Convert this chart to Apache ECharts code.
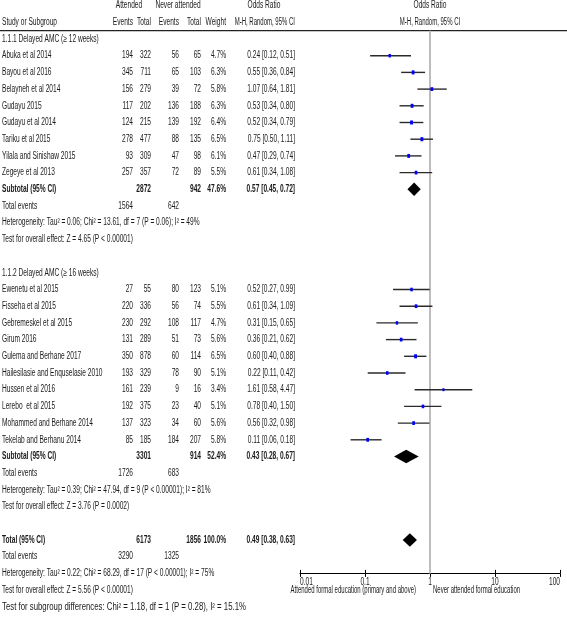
<!DOCTYPE html>
<html><head><meta charset="utf-8">
<script src="https://cdn.jsdelivr.net/npm/echarts@6/dist/echarts.min.js"></script>
<style>html,body{margin:0;padding:0;background:#fff}#c{width:567px;height:618px}</style>
</head><body><div id="c"></div>
<script>
// ---------------- DATA ----------------
const g1Studies = ['Abuka et al 2014','Bayou et al 2016','Belayneh et al 2014','Gudayu 2015','Gudayu et al 2014','Tariku et al 2015','Yilala and Sinishaw 2015','Zegeye et al 2013'];
const g1AttEvents = [194,345,156,117,124,278,93,257];
const g1AttTotal  = [322,711,279,202,215,477,309,357];
const g1NevEvents = [56,65,39,136,139,88,47,72];
const g1NevTotal  = [65,103,72,188,192,135,98,89];
const g1Weight    = [4.7,6.3,5.8,6.3,6.4,6.5,6.1,5.5];
const g1OR        = [0.24,0.55,1.07,0.53,0.52,0.75,0.47,0.61];
const g1Lo        = [0.12,0.36,0.64,0.34,0.34,0.50,0.29,0.34];
const g1Hi        = [0.51,0.84,1.81,0.80,0.79,1.11,0.74,1.08];

const g2Studies = ['Ewenetu et al 2015','Fisseha et al 2015','Gebremeskel et al 2015','Girum 2016','Gulema and Berhane 2017','Hailesilasie and Enquselasie 2010','Hussen et al 2016','Lerebo  et al 2015','Mohammed and Berhane 2014','Tekelab and Berhanu 2014'];
const g2AttEvents = [27,220,230,131,350,193,161,192,137,85];
const g2AttTotal  = [55,336,292,289,878,329,239,375,323,185];
const g2NevEvents = [80,56,108,51,60,78,9,23,34,184];
const g2NevTotal  = [123,74,117,73,114,90,16,40,60,207];
const g2Weight    = [5.1,5.5,4.7,5.6,6.5,5.1,3.4,5.1,5.6,5.8];
const g2OR        = [0.52,0.61,0.31,0.36,0.60,0.22,1.61,0.78,0.56,0.11];
const g2Lo        = [0.27,0.34,0.15,0.21,0.40,0.11,0.58,0.40,0.32,0.06];
const g2Hi        = [0.99,1.09,0.65,0.62,0.88,0.42,4.47,1.50,0.98,0.18];

// pooled estimates: subgroup 1, subgroup 2, overall
const pooledLabels    = ['Subtotal (95% CI)','Subtotal (95% CI)','Total (95% CI)'];
const pooledAttTotal  = [2872,3301,6173];
const pooledNevTotal  = [942,914,1856];
const pooledWeight    = [47.6,52.4,100.0];
const pooledOR        = [0.57,0.43,0.49];
const pooledLo        = [0.45,0.28,0.38];
const pooledHi        = [0.72,0.67,0.63];
const pooledAttEvents = [1564,1726,3290];
const pooledNevEvents = [642,683,1325];

const subgroupTitles = ['1.1.1 Delayed AMC (\u2265 12 weeks)','1.1.2 Delayed AMC (\u2265 16 weeks)'];
const heterogeneity = [
  'Heterogeneity: Tau\u00b2 = 0.06; Chi\u00b2 = 13.61, df = 7 (P = 0.06); I\u00b2 = 49%',
  'Heterogeneity: Tau\u00b2 = 0.39; Chi\u00b2 = 47.94, df = 9 (P < 0.00001); I\u00b2 = 81%',
  'Heterogeneity: Tau\u00b2 = 0.22; Chi\u00b2 = 68.29, df = 17 (P < 0.00001); I\u00b2 = 75%'];
const overallEffect = [
  'Test for overall effect: Z = 4.65 (P < 0.00001)',
  'Test for overall effect: Z = 3.76 (P = 0.0002)',
  'Test for overall effect: Z = 5.56 (P < 0.00001)'];
const subgroupDiff = 'Test for subgroup differences: Chi\u00b2 = 1.18, df = 1 (P = 0.28), I\u00b2 = 15.1%';
const axisTicks = [0.01,0.1,1,10,100];
const axisTickLabels = ['0.01','0.1','1','10','100'];
const favoursLeft = 'Attended formal education (primary and above)';
const favoursRight = 'Never attended formal education';

// ---------------- LAYOUT ----------------
const FONT = "'Liberation Sans', Arial, sans-serif";
const FS = 10, SX = 0.66, TXT = '#1a1a1a';
const COL = {name:2, attEv:133, attTot:151, nevEv:179, nevTot:201, weight:226, or:295};
const cells = [];
function cell(x,row,text,align,bold,sx){cells.push({x,row,text,align,bold:!!bold,sx:sx||SX});}
const fmtCI = (o,l,h)=>o.toFixed(2)+' ['+l.toFixed(2)+', '+h.toFixed(2)+']';

cell(129,-1,'Attended','center'); cell(178,-1,'Never attended','center');
cell(264,-1,'Odds Ratio','center'); cell(430,-1,'Odds Ratio','center');
cell(COL.name,0,'Study or Subgroup','left'); cell(COL.attEv,0,'Events','right');
cell(COL.attTot,0,'Total','right'); cell(COL.nevEv,0,'Events','right');
cell(COL.nevTot,0,'Total','right'); cell(COL.weight,0,'Weight','right');
cell(COL.or,0,'M-H, Random, 95% CI','right',0,0.6); cell(430,0,'M-H, Random, 95% CI','center',0,0.6);

const groups = [
  {start:1, st:g1Studies, ae:g1AttEvents, at:g1AttTotal, ne:g1NevEvents, nt:g1NevTotal, w:g1Weight, o:g1OR, l:g1Lo, h:g1Hi},
  {start:15, st:g2Studies, ae:g2AttEvents, at:g2AttTotal, ne:g2NevEvents, nt:g2NevTotal, w:g2Weight, o:g2OR, l:g2Lo, h:g2Hi}];
const studyPts = [], diamonds = [];
groups.forEach((g,gi)=>{
  cell(COL.name,g.start,subgroupTitles[gi],'left');
  g.st.forEach((s,i)=>{
    const r = g.start+1+i;
    cell(COL.name,r,s,'left'); cell(COL.attEv,r,String(g.ae[i]),'right');
    cell(COL.attTot,r,String(g.at[i]),'right'); cell(COL.nevEv,r,String(g.ne[i]),'right');
    cell(COL.nevTot,r,String(g.nt[i]),'right'); cell(COL.weight,r,g.w[i].toFixed(1)+'%','right');
    cell(COL.or,r,fmtCI(g.o[i],g.l[i],g.h[i]),'right');
    studyPts.push([g.o[i],g.l[i],g.h[i],r,g.w[i]]);
  });
  const sr = g.start+1+g.st.length;
  diamonds.push([pooledOR[gi],pooledLo[gi],pooledHi[gi],sr]);
  cell(COL.name,sr,pooledLabels[gi],'left',1); cell(COL.attTot,sr,String(pooledAttTotal[gi]),'right',1);
  cell(COL.nevTot,sr,String(pooledNevTotal[gi]),'right',1); cell(COL.weight,sr,pooledWeight[gi].toFixed(1)+'%','right',1);
  cell(COL.or,sr,fmtCI(pooledOR[gi],pooledLo[gi],pooledHi[gi]),'right',1);
  cell(COL.name,sr+1,'Total events','left'); cell(COL.attEv,sr+1,String(pooledAttEvents[gi]),'right');
  cell(COL.nevEv,sr+1,String(pooledNevEvents[gi]),'right');
  cell(COL.name,sr+2,heterogeneity[gi],'left'); cell(COL.name,sr+3,overallEffect[gi],'left');
});
const tr = 31;
diamonds.push([pooledOR[2],pooledLo[2],pooledHi[2],tr]);
cell(COL.name,tr,pooledLabels[2],'left',1); cell(COL.attTot,tr,String(pooledAttTotal[2]),'right',1);
cell(COL.nevTot,tr,String(pooledNevTotal[2]),'right',1); cell(COL.weight,tr,pooledWeight[2].toFixed(1)+'%','right',1);
cell(COL.or,tr,fmtCI(pooledOR[2],pooledLo[2],pooledHi[2]),'right',1);
cell(COL.name,tr+1,'Total events','left'); cell(COL.attEv,tr+1,String(pooledAttEvents[2]),'right');
cell(COL.nevEv,tr+1,String(pooledNevEvents[2]),'right');
cell(COL.name,tr+2,heterogeneity[2],'left'); cell(COL.name,tr+3,overallEffect[2],'left');
cell(COL.name,tr+4,subgroupDiff,'left',0,0.78);

function textEl(x,y,text,align,bold,sx){
  return {type:'text', x:x, y:y, scaleX:sx||SX, silent:true,
    style:{text:text, x:0, y:0, align:align, verticalAlign:'middle', textAlign:align, textVerticalAlign:'middle',
      fontSize:FS, fontFamily:FONT, fontWeight:bold?'bold':'normal', fill:TXT}};
}

const chart = echarts.init(document.getElementById('c'), null, {renderer:'canvas'});
chart.setOption({
  animation:false,
  backgroundColor:'#fff',
  grid:[
    {left:0, right:0, top:5.6, bottom:11.2},
    {left:300, right:7, top:5.6, bottom:44.6}
  ],
  xAxis:[
    {type:'value', gridIndex:0, min:0, max:567, show:false},
    {type:'log', gridIndex:1, min:0.01, max:100, logBase:10, position:'bottom',
      axisLine:{show:true, onZero:false, lineStyle:{color:'#000', width:1}},
      axisTick:{show:true, inside:false, length:3.5, lineStyle:{color:'#000'}},
      axisLabel:{show:false}, splitLine:{show:false}, minorTick:{show:false}},
    {type:'log', gridIndex:1, min:0.01, max:100, logBase:10, position:'bottom',
      axisLine:{show:false, onZero:false}, axisTick:{show:true, inside:true, length:3.5, lineStyle:{color:'#000'}},
      axisLabel:{show:false}, splitLine:{show:false}}
  ],
  yAxis:[
    {type:'value', gridIndex:0, min:-1, max:35, inverse:true, show:false},
    {type:'value', gridIndex:1, min:-1, max:33, inverse:true, show:false}
  ],
  series:[
    { // header rule
      type:'line', xAxisIndex:0, yAxisIndex:0, data:[[0,0.5],[567,0.5]], symbol:'none',
      lineStyle:{color:'#222', width:1.2}, silent:true, z:1},
    { // line of no effect
      type:'line', xAxisIndex:1, yAxisIndex:1, data:[[1,0.5],[1,33]], symbol:'none',
      lineStyle:{color:'#bdbdbd', width:2}, silent:true, z:1},
    { // study estimates
      type:'custom', xAxisIndex:1, yAxisIndex:1, data:studyPts, encode:{x:[0,1,2], y:3}, z:3, silent:true,
      renderItem:function(params, api){
        const r = api.value(3);
        const p = api.coord([api.value(0), r]), a = api.coord([api.value(1), r]), b = api.coord([api.value(2), r]);
        const hgt = 1.6*Math.sqrt(api.value(4)), wid = hgt*0.7;
        return {type:'group', children:[
          {type:'line', shape:{x1:a[0], y1:a[1], x2:b[0], y2:b[1]}, style:{stroke:'#2a2a2a', lineWidth:1.4}},
          {type:'rect', shape:{x:p[0]-wid/2, y:p[1]-hgt/2, width:wid, height:hgt}, style:{fill:'#0000ff'}}
        ]};
      }},
    { // pooled diamonds
      type:'custom', xAxisIndex:1, yAxisIndex:1, data:diamonds, encode:{x:[0,1,2], y:3}, z:3, silent:true,
      renderItem:function(params, api){
        const r = api.value(3);
        const p = api.coord([api.value(0), r]), a = api.coord([api.value(1), r]), b = api.coord([api.value(2), r]);
        const hh = 6.7;
        return {type:'polygon', shape:{points:[[a[0],p[1]],[p[0],p[1]-hh],[b[0],p[1]],[p[0],p[1]+hh]]}, style:{fill:'#000'}};
      }},
    { // axis tick labels
      type:'custom', xAxisIndex:1, yAxisIndex:1, data:axisTicks.map(v=>[v,33]), encode:{x:0,y:1}, z:4, silent:true,
      renderItem:function(params, api){
        const i = params.dataIndex, p = api.coord([api.value(0), api.value(1)]);
        const al = i===0 ? 'left' : (i===axisTicks.length-1 ? 'right' : 'center');
        return textEl(p[0], p[1]+9, axisTickLabels[i], al, false);
      }},
    { // favours labels
      type:'custom', xAxisIndex:1, yAxisIndex:1, data:[[1,34],[1,34]], encode:{x:0,y:1}, z:4, silent:true,
      renderItem:function(params, api){
        const p = api.coord([api.value(0), api.value(1)]);
        return params.dataIndex===0 ? textEl(p[0]-14, p[1], favoursLeft, 'right', false, 0.6)
                                    : textEl(p[0]+3, p[1], favoursRight, 'left', false, 0.6);
      }},
    { // table text
      type:'custom', xAxisIndex:0, yAxisIndex:0, data:cells.map(c=>[c.x,c.row]), encode:{x:0,y:1}, z:4, silent:true,
      renderItem:function(params, api){
        const c = cells[params.dataIndex];
        const p = api.coord([c.x, c.row]);
        return textEl(p[0], p[1], c.text, c.align, c.bold, c.sx);
      }}
  ]
});
</script>
</body></html>
